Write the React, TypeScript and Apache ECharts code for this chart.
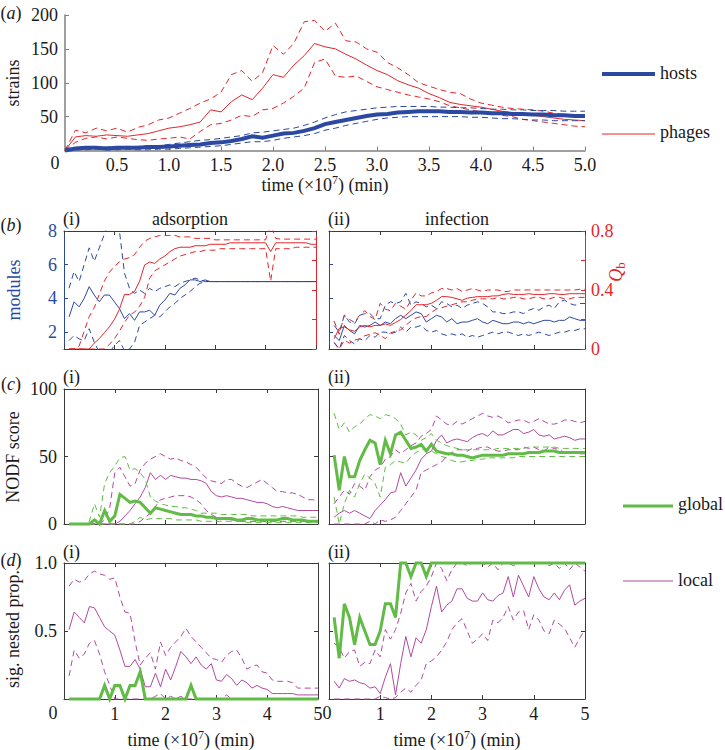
import React, { useEffect, useRef } from "react";
import * as echarts from "echarts";

// ---------- data ----------
const TA = [0,0.1,0.2,0.3,0.4,0.5,0.6,0.7,0.8,0.9,1,1.1,1.2,1.3,1.4,1.5,1.6,1.7,1.8,1.9,2,2.1,2.2,2.3,2.4,2.5,2.6,2.7,2.8,2.9,3,3.1,3.2,3.3,3.4,3.5,3.6,3.7,3.8,3.9,4,4.1,4.2,4.3,4.4,4.5,4.6,4.7,4.8,4.9,5];
const TB = [0.1,0.2,0.3,0.4,0.5,0.6,0.7,0.8,0.9,1,1.1,1.2,1.3,1.4,1.5,1.6,1.7,1.8,1.9,2,2.1,2.2,2.3,2.4,2.5,2.6,2.7,2.8,2.9,3,3.1,3.2,3.3,3.4,3.5,3.6,3.7,3.8,3.9,4,4.1,4.2,4.3,4.4,4.5,4.6,4.7,4.8,4.9,5];

// (a) strains
const phagesMean = [0,20,22,21,23,22,21,23,25,29,33,35,38,42,60,57,72,82,75,92,112,108,126,140,158,153,150,142,135,126,118,112,103,97,92,84,78,71,68,66,64,61,58,56,53,52,50,48,46,45,44];
const phagesUpper = [0,30,26,33,29,33,27,34,38,45,48,55,62,70,76,86,112,118,102,115,155,142,158,190,192,176,188,162,160,150,145,130,122,112,100,95,90,86,84,76,70,67,64,62,61,60,58,55,53,50,49];
const phagesLower = [0,12,18,20,17,20,18,16,15,17,18,20,17,28,38,40,45,52,50,60,62,70,80,92,130,135,110,108,110,102,94,90,86,82,79,76,72,66,63,60,57,55,52,50,46,44,42,40,38,36,35];
const hostsMean = [0,3,4,4,3,4,4,4,5,5,6,7,8,9,11,12,14,17,21,19,22,25,26,29,33,39,42,45,48,51,53,54,56,57,58,58,58,57,57,56,56,55,55,54,54,53,53,52,52,51,51];
const hostsUpper = [0,4,5,5,5,6,6,6,7,7,9,11,13,15,16,18,20,22,26,27,29,31,33,37,42,48,53,57,59,61,63,64,65,65,65,65,64,64,63,63,62,61,61,60,60,59,59,59,58,58,58];
const hostsLower = [0,1,1,2,1,1,2,1,1,2,2,3,4,5,6,7,9,11,13,13,15,18,20,22,25,30,33,37,40,43,46,48,49,50,50,50,50,50,50,49,49,48,47,47,46,45,45,44,44,44,44];

// (b)(i) adsorption: modules and Qb
const modMeanI = [2.9,3.8,3.5,4.0,4.7,4.2,3.8,4.2,4.2,3.8,3.4,2.8,3.1,2.7,3.2,3.2,3.3,3.0,3.6,3.9,4.3,4.2,4.6,4.8,5.1,5.1,5.0,5.1,5,5,5,5,5,5,5,5,5,5,5,5,5,5,5,5,5,5,5,5,5,5];
const modUpperI = [4.6,5.6,5.0,6.0,7.0,6.2,7.0,7.8,8.6,9.0,8.0,5.5,4.6,4.3,4.5,4.3,4.6,4.4,4.6,4.7,4.8,4.7,4.9,5.0,5.1,5.2,5.1,5.0,5,5,5,5,5,5,5,5,5,5,5,5,5,5,5,5,5,5,5,5,5,5];
const modLowerI = [1.5,1.8,1.6,1.5,2.2,1.4,0.8,0.6,0.8,1.2,1.5,0.9,1.0,1.4,2.4,2.6,2.8,3.0,2.9,3.2,3.5,3.7,4.0,4.2,4.4,4.7,4.9,5.0,5,5,5,5,5,5,5,5,5,5,5,5,5,5,5,5,5,5,5,5,5,5];
const qMeanI = [0,0,0,0,0,0.04,0.07,0.11,0.15,0.2,0.27,0.37,0.37,0.39,0.46,0.57,0.59,0.58,0.61,0.63,0.66,0.68,0.69,0.69,0.69,0.7,0.7,0.7,0.71,0.71,0.71,0.71,0.72,0.72,0.72,0.72,0.72,0.72,0.72,0.72,0.66,0.72,0.72,0.72,0.72,0.72,0.72,0.72,0.71,0.71];
const qUpperI = [0,0,0.02,0.12,0.22,0.28,0.37,0.46,0.52,0.56,0.59,0.61,0.62,0.64,0.69,0.73,0.75,0.76,0.77,0.77,0.77,0.77,0.76,0.76,0.76,0.75,0.75,0.75,0.75,0.74,0.74,0.74,0.74,0.74,0.74,0.74,0.74,0.74,0.74,0.74,0.84,0.75,0.745,0.745,0.745,0.745,0.745,0.745,0.745,0.745];
const qLowerI = [0,0,0,0,0,0,0,0,0.03,0.07,0.12,0.18,0.23,0.25,0.29,0.35,0.48,0.53,0.55,0.57,0.59,0.61,0.63,0.64,0.65,0.66,0.66,0.67,0.67,0.67,0.68,0.68,0.68,0.68,0.68,0.68,0.68,0.68,0.68,0.68,0.46,0.68,0.68,0.68,0.68,0.69,0.69,0.69,0.69,0.69];

// (b)(ii) infection
const modMeanII = [1.8,1.5,2.4,2.1,1.9,2.4,2.3,2.4,2.6,2.4,2.6,2.5,2.8,3.0,2.8,3.0,3.2,3.1,2.6,2.8,3.0,2.9,2.6,2.8,2.5,2.6,2.6,2.7,2.8,2.6,2.5,2.7,2.6,2.5,2.5,2.6,2.6,2.5,2.6,2.5,2.6,2.7,2.7,2.6,2.7,2.7,2.9,2.8,2.7,2.7];
const modUpperII = [2.4,2.0,3.0,2.6,2.5,3.0,3.1,3.1,2.8,2.8,3.6,3.8,3.7,3.8,4.3,3.6,3.8,3.7,3.5,3.6,3.4,3.8,3.7,3.5,3.6,3.4,3.6,3.7,3.8,3.7,3.5,3.2,3.2,3.1,3.1,3.2,3.2,3.1,3.3,3.4,3.3,3.5,3.6,3.4,3.8,3.9,3.7,3.6,3.7,3.7];
const modLowerII = [1.4,1.0,1.8,1.5,1.3,1.6,1.5,1.8,1.7,2.0,2.0,1.9,2.0,2.3,2.0,2.3,2.3,2.4,2.1,2.0,2.1,1.9,1.8,1.9,1.8,1.9,1.7,1.8,1.7,1.8,1.9,2.0,1.9,2.0,2.0,1.9,1.8,1.9,1.8,1.9,2.0,1.9,1.8,1.9,2.0,2.0,2.1,2.1,2.2,2.2];
const qMeanII = [0.07,0.14,0.15,0.13,0.12,0.15,0.16,0.15,0.16,0.16,0.17,0.16,0.18,0.2,0.23,0.26,0.3,0.3,0.3,0.31,0.33,0.355,0.355,0.35,0.34,0.33,0.345,0.35,0.355,0.355,0.355,0.36,0.36,0.37,0.375,0.37,0.37,0.37,0.375,0.37,0.37,0.37,0.375,0.375,0.37,0.37,0.375,0.375,0.375,0.375];
const qUpperII = [0.19,0.1,0.23,0.2,0.18,0.23,0.26,0.22,0.2,0.31,0.27,0.26,0.31,0.29,0.27,0.33,0.38,0.36,0.36,0.38,0.39,0.41,0.41,0.4,0.41,0.39,0.4,0.41,0.4,0.39,0.4,0.4,0.4,0.39,0.39,0.4,0.4,0.4,0.4,0.4,0.4,0.4,0.4,0.4,0.4,0.4,0.4,0.4,0.405,0.405];
const qLowerII = [0.04,0,0.06,0.04,0.06,0.07,0.09,0.1,0.11,0.095,0.07,0.11,0.12,0.13,0.16,0.19,0.21,0.22,0.22,0.25,0.27,0.28,0.29,0.3,0.31,0.32,0.32,0.33,0.34,0.34,0.34,0.34,0.35,0.34,0.34,0.35,0.35,0.34,0.34,0.35,0.35,0.34,0.34,0.35,0.35,0.34,0.34,0.35,0.35,0.35];

// (c) NODF score
const gMeanCI = [0,0,0,0,0,3,0,10,2,6,22,19,16,17,16,12,8,12,11,10,9,8,7,7,7,6,6,5,5,4,4,4,4,3,3,4,4,3,3,3,3,3,4,4,3,3,3,2,2,2];
const gUpperCI = [0,0,0,0,2,15,5,30,38,43,49,50,40,41,38,33,20,17,15,14,13,13,12,12,11,10,8,8,8,8,7,7,7,7,7,7,6,6,6,6,6,6,6,6,6,6,5,5,5,5];
const gLowerCI = [0,0,0,0,0,0,0,0,0,0,0,0,0,2,5,3,4,4,4,4,4,3,3,3,3,3,2,2,2,2,2,2,2,2,2,1,1,1,1,1,1,1,1,1,1,1,1,1,1,1];
const lMeanCI = [0,0,0,0,0,0,0,0,0,0,2,6,10,15,20,27,38,33,36,33,36,35,34,34,33,33,32,30,24,21,20,21,20,19,19,18,17,16,16,15,13,12,13,12,11,10,10,10,10,10];
const lUpperCI = [0,0,0,0,0,0,0,3,12,38,42,35,28,30,40,45,48,50,52,50,48,49,47,46,44,42,38,34,32,31,30,33,33,30,28,27,29,31,33,30,27,24,24,23,23,22,20,18,18,17];
const lLowerCI = [0,0,0,0,0,0,0,0,0,0,0,0,0,0,2,5,8,13,18,19,20,21,21,21,20,18,15,10,7,5,4,3,3,3,2,2,2,2,2,2,2,2,2,2,2,2,2,2,2,2];

const gMeanCII = [51,25,50,35,35,47,55,62,60,44,62,52,66,68,62,56,57,59,54,59,54,53,52,52,51,51,50,49,50,51,51,51,51,51,52,52,52,52,53,53,53,54,54,54,53,53,53,53,53,53];
const gUpperCII = [82,70,75,68,72,74,78,81,80,78,81,80,78,74,66,68,66,62,64,67,62,60,58,57,56,55,55,55,55,55,55,55,56,56,56,56,56,56,57,57,57,57,57,57,56,56,56,56,56,56];
const gLowerCII = [20,0,15,25,20,30,37,34,30,20,42,44,47,46,45,50,53,55,55,54,52,50,49,47,46,46,47,47,48,48,49,49,49,49,49,49,50,50,50,50,50,50,50,50,50,50,50,50,50,50];
const lMeanCII = [5,8,10,8,10,8,6,4,10,14,18,23,24,38,28,34,40,48,52,54,62,66,60,62,63,62,61,64,66,67,65,69,66,66,68,70,70,67,68,70,66,65,66,63,64,65,64,62,63,63];
const lUpperCII = [15,20,25,22,30,28,25,35,40,42,48,50,55,52,55,58,60,65,67,70,80,77,74,73,76,74,76,78,80,82,80,79,80,78,75,76,77,77,75,76,78,76,74,74,75,77,77,76,75,76];
const lLowerCII = [0,0,0,0,0,0,0,2,0,3,2,3,5,10,15,20,25,38,40,42,44,46,50,53,55,55,54,56,56,57,57,55,54,54,55,55,55,57,56,57,55,54,57,56,55,53,52,53,52,52];

// (d) significantly nested proportion
const gD1 = [0,0,0,0,0,0,0,0.1,0,0.1,0.1,0,0.1,0.1,0.2,0,0,0,0,0,0,0,0,0,0.1,0,0,0,0,0,0,0,0,0,0,0,0,0,0,0,0,0,0,0,0,0,0,0,0,0];
const lMeanD1 = [0.51,0.64,0.6,0.56,0.68,0.67,0.6,0.53,0.5,0.47,0.36,0.24,0.24,0.29,0.22,0.09,0.09,0.19,0.09,0.22,0.14,0.24,0.35,0.31,0.26,0.31,0.25,0.22,0.26,0.14,0.13,0.18,0.15,0.1,0.14,0.12,0.08,0.1,0.08,0.07,0.04,0.04,0.04,0.04,0.04,0.03,0.03,0.03,0.03,0.03];
const lUpperD1 = [0.83,0.88,0.86,0.87,0.92,0.94,0.92,0.91,0.88,0.89,0.75,0.64,0.63,0.42,0.25,0.3,0.34,0.22,0.42,0.32,0.38,0.42,0.46,0.52,0.46,0.42,0.38,0.34,0.3,0.29,0.27,0.32,0.35,0.36,0.3,0.22,0.24,0.25,0.2,0.19,0.14,0.13,0.13,0.13,0.12,0.08,0.08,0.08,0.08,0.08];
const lLowerD1 = [0.17,0.36,0.3,0.33,0.41,0.43,0.33,0.2,0.1,0,0,0,0,0,0,0,0,0.02,0.04,0,0.02,0,0.02,0,0,0,0,0,0,0,0,0.03,0,0,0,0,0,0,0,0,0,0,0,0,0,0,0,0,0,0];

const gD2 = [0.6,0.3,0.7,0.6,0.4,0.6,0.5,0.4,0.4,0.5,0.7,0.7,0.6,1,1,0.9,1,1,0.9,1,1,1,1,1,1,1,1,1,1,1,1,1,1,1,1,1,1,1,1,1,1,1,1,1,1,1,1,1,1,1];
const lMeanD2 = [0.13,0.08,0.15,0.13,0.14,0.12,0.11,0.08,0.09,0.04,0.16,0.26,0.03,0.26,0.46,0.31,0.45,0.41,0.51,0.68,0.83,0.64,0.69,0.72,0.81,0.81,0.74,0.72,0.72,0.78,0.73,0.72,0.76,0.78,0.9,0.75,0.91,0.83,0.75,0.9,0.81,0.75,0.73,0.78,0.73,0.8,0.84,0.69,0.72,0.74];
const lUpperD2 = [0.41,0.38,0.3,0.35,0.36,0.24,0.27,0.26,0.36,0.31,0.51,0.44,0.51,0.63,0.78,0.85,0.72,0.79,0.83,0.9,1,0.96,0.87,0.95,1,1,0.98,1,1,1,0.97,1,0.95,1,1,0.98,1,1,1,1,1,1,0.98,1,0.96,1,0.95,1,0.97,0.94];
const lLowerD2 = [0,0,0,0,0,0,0,0,0,0.02,0.01,0,0.01,0.05,0.08,0.05,0.1,0.14,0.26,0.28,0.31,0.36,0.42,0.51,0.56,0.59,0.5,0.41,0.44,0.48,0.43,0.58,0.56,0.6,0.68,0.58,0.64,0.65,0.51,0.62,0.58,0.5,0.48,0.58,0.55,0.52,0.45,0.38,0.45,0.51];

const xTicksA = [0.5, 1.0, 1.5, 2.0, 2.5, 3.0, 3.5, 4.0, 4.5, 5.0];
const moduleTicks = [2, 4, 6, 8];

// ---------- styles ----------
const FF = "Liberation Serif, Times New Roman, serif";
const FS = 18;
const BLUE = "#2b49a1";
const RED = "#e3262b";
const GREEN = "#62bb46";
const MAG = "#b04a9f";
const BOX = "#3a3a3a";
const GRAYAX = "#808080";
const TXT = "#1a1a1a";
const DASH = [6, 4];
const fontStr = (size: number, italic = false) => `${italic ? "italic " : ""}${size}px ${FF}`;

const grids = [
  { left: 65, top: 15, width: 520, height: 135.5 },
  { left: 64, top: 231, width: 252, height: 118 },
  { left: 329, top: 231, width: 256, height: 118 },
  { left: 64, top: 389, width: 254, height: 135 },
  { left: 329, top: 389, width: 256, height: 135 },
  { left: 64, top: 563, width: 254, height: 136 },
  { left: 329, top: 563, width: 256, height: 136 },
].map((g) => ({ ...g, containLabel: false, outerBoundsMode: "none", show: false }));

const aLine = (color: string, width = 1) => ({ show: true, onZero: false, lineStyle: { color, width } });
const aTick = (color: string, extra: any = {}) => ({ show: true, inside: true, length: 4, lineStyle: { color, width: 1 }, ...extra });
const lbl = (color: string, extra: any = {}) => ({ fontFamily: FF, fontSize: FS, color, ...extra });

function buildXAxes() {
  const xs: any[] = [];
  xs.push({
    gridIndex: 0, type: "value", min: 0, max: 5, interval: 0.5, position: "bottom",
    axisLine: aLine(GRAYAX, 1.5), axisTick: aTick(GRAYAX), splitLine: { show: false },
    axisLabel: lbl(TXT, { margin: 5, formatter: (v: number) => (xTicksA.some((t) => Math.abs(t - v) < 1e-6) ? v.toFixed(1) : "") }),
  });
  for (let g = 1; g <= 6; g++) {
    xs.push({
      gridIndex: g, type: "value", min: 0, max: 5, interval: 1, position: "bottom",
      axisLine: aLine(BOX), axisTick: aTick(BOX), splitLine: { show: false },
      axisLabel: lbl(TXT, { show: g >= 5, margin: 6, formatter: (v: number) => (v === 0 ? "" : String(v)) }),
    });
  }
  for (let g = 1; g <= 6; g++) {
    xs.push({
      gridIndex: g, type: "value", min: 0, max: 5, interval: 1, position: "top",
      axisLine: aLine(BOX), axisTick: aTick(BOX), splitLine: { show: false }, axisLabel: { show: false },
    });
  }
  return xs;
}

const qFmt = (v: number) => {
  const s = Math.round(v * 10) / 10;
  if (s === 0) return "0";
  if (s === 0.4 || s === 0.8) return s.toFixed(1);
  return "";
};

function buildYAxes() {
  const ys: any[] = [];
  ys.push({
    gridIndex: 0, type: "value", min: 0, max: 200, interval: 50, position: "left",
    axisLine: aLine(GRAYAX, 1.5), axisTick: aTick(GRAYAX), splitLine: { show: false },
    axisLabel: lbl(TXT, { margin: 7, formatter: (v: number) => (v === 0 ? "" : String(v)) }),
  });
  for (const g of [1, 2]) {
    ys.push({
      gridIndex: g, type: "value", min: 1, max: 8, position: "left",
      axisLine: aLine(BLUE), axisTick: aTick(BLUE, { customValues: moduleTicks }), splitLine: { show: false },
      axisLabel: lbl(BLUE, { show: g === 1, margin: 7, customValues: moduleTicks }),
    });
    ys.push({
      gridIndex: g, type: "value", min: 0, max: 0.8, interval: 0.2, position: "right",
      axisLine: aLine(RED), axisTick: aTick(RED), splitLine: { show: false },
      axisLabel: lbl(RED, { show: g === 2, margin: 6, formatter: qFmt }),
    });
  }
  for (const g of [3, 4]) {
    ys.push({
      gridIndex: g, type: "value", min: 0, max: 100, interval: 50, position: "left",
      axisLine: aLine(BOX), axisTick: aTick(BOX), splitLine: { show: false },
      axisLabel: lbl(TXT, { show: g === 3, margin: 7 }),
    });
    ys.push({
      gridIndex: g, type: "value", min: 0, max: 100, interval: 50, position: "right",
      axisLine: aLine(BOX), axisTick: aTick(BOX), splitLine: { show: false }, axisLabel: { show: false },
    });
  }
  for (const g of [5, 6]) {
    ys.push({
      gridIndex: g, type: "value", min: 0, max: 1, interval: 0.5, position: "left",
      axisLine: aLine(BOX), axisTick: aTick(BOX), splitLine: { show: false },
      axisLabel: lbl(TXT, { show: g === 5, margin: 7, formatter: (v: number) => (v === 0 ? "" : v.toFixed(1)) }),
    });
    ys.push({
      gridIndex: g, type: "value", min: 0, max: 1, interval: 0.5, position: "right",
      axisLine: aLine(BOX), axisTick: aTick(BOX), splitLine: { show: false }, axisLabel: { show: false },
    });
  }
  return ys;
}

function ln(xi: number, yi: number, T: number[], vals: number[], color: string, width: number, dashed: boolean, clip = false, z = 2) {
  return {
    type: "line", xAxisIndex: xi, yAxisIndex: yi, data: T.map((t, i) => [t, vals[i]]),
    showSymbol: false, symbol: "none", silent: true, clip, z, animation: false,
    lineStyle: { color, width, type: dashed ? DASH : "solid", cap: "butt", join: "miter" },
  };
}

function buildSeries() {
  const s: any[] = [];
  s.push(ln(0, 0, TA, phagesUpper, RED, 1, true));
  s.push(ln(0, 0, TA, phagesLower, RED, 1, true));
  s.push(ln(0, 0, TA, phagesMean, RED, 1, false));
  s.push(ln(0, 0, TA, hostsUpper, BLUE, 1, true));
  s.push(ln(0, 0, TA, hostsLower, BLUE, 1, true));
  s.push(ln(0, 0, TA, hostsMean, BLUE, 4, false, false, 3));
  s.push(ln(1, 1, TB, modUpperI, BLUE, 1, true, true));
  s.push(ln(1, 1, TB, modLowerI, BLUE, 1, true, true));
  s.push(ln(1, 1, TB, modMeanI, BLUE, 1, false, true));
  s.push(ln(1, 2, TB, qUpperI, RED, 1, true, true));
  s.push(ln(1, 2, TB, qLowerI, RED, 1, true, true));
  s.push(ln(1, 2, TB, qMeanI, RED, 1, false, true));
  s.push(ln(2, 3, TB, modUpperII, BLUE, 1, true, true));
  s.push(ln(2, 3, TB, modLowerII, BLUE, 1, true, true));
  s.push(ln(2, 3, TB, modMeanII, BLUE, 1, false, true));
  s.push(ln(2, 4, TB, qUpperII, RED, 1, true, true));
  s.push(ln(2, 4, TB, qLowerII, RED, 1, true, true));
  s.push(ln(2, 4, TB, qMeanII, RED, 1, false, true));
  s.push(ln(3, 5, TB, lUpperCI, MAG, 1, true));
  s.push(ln(3, 5, TB, lLowerCI, MAG, 1, true));
  s.push(ln(3, 5, TB, lMeanCI, MAG, 1, false));
  s.push(ln(3, 5, TB, gUpperCI, GREEN, 1, true));
  s.push(ln(3, 5, TB, gLowerCI, GREEN, 1, true));
  s.push(ln(3, 5, TB, gMeanCI, GREEN, 3, false, false, 3));
  s.push(ln(4, 7, TB, lUpperCII, MAG, 1, true));
  s.push(ln(4, 7, TB, lLowerCII, MAG, 1, true));
  s.push(ln(4, 7, TB, lMeanCII, MAG, 1, false));
  s.push(ln(4, 7, TB, gUpperCII, GREEN, 1, true));
  s.push(ln(4, 7, TB, gLowerCII, GREEN, 1, true));
  s.push(ln(4, 7, TB, gMeanCII, GREEN, 3, false, false, 3));
  s.push(ln(5, 9, TB, lUpperD1, MAG, 1, true));
  s.push(ln(5, 9, TB, lLowerD1, MAG, 1, true));
  s.push(ln(5, 9, TB, lMeanD1, MAG, 1, false));
  s.push(ln(5, 9, TB, gD1, GREEN, 3, false, false, 3));
  s.push(ln(6, 11, TB, lUpperD2, MAG, 1, true));
  s.push(ln(6, 11, TB, lLowerD2, MAG, 1, true));
  s.push(ln(6, 11, TB, lMeanD2, MAG, 1, false));
  s.push(ln(6, 11, TB, gD2, GREEN, 3, false, false, 3));
  return s;
}

// ---------- graphic texts ----------
const tok = (color: string, size = FS, italic = false, extra: any = {}) => ({
  font: fontStr(size, italic), fontFamily: FF, fontSize: size, fontStyle: italic ? "italic" : "normal",
  lineHeight: 22, verticalAlign: "middle", fill: color, color, ...extra,
});
const richBase = {
  n: tok(TXT),
  it: tok(TXT, FS, true),
};

function txt(x: number, y: number, text: string, o: any = {}) {
  const align = o.align || "center";
  const color = o.color || TXT;
  const size = o.size || FS;
  return {
    type: "text", x, y, rotation: o.rotation || 0, silent: true, z: 100,
    style: {
      text, fill: color,
      font: fontStr(size, !!o.italic), fontFamily: FF, fontSize: size, fontStyle: o.italic ? "italic" : "normal",
      align, verticalAlign: "middle", textAlign: align, textVerticalAlign: "middle",
      rich: o.rich,
    },
  };
}

// "time (×10^7) (min)" built from plain pieces (Times metrics, 18px)
const TIME_A = "time (×10";
const TIME_SUP = "7";
const TIME_B = ") (min)";
function timeTitle(cx: number, y: number) {
  const wA = 3.925 * FS;
  const wS = 0.5 * 12;
  const wB = 2.805 * FS;
  const x0 = cx - (wA + wS + wB) / 2;
  return [
    txt(x0, y, TIME_A, { align: "left" }),
    txt(x0 + wA, y - 5, TIME_SUP, { align: "left", size: 12 }),
    txt(x0 + wA + wS, y, TIME_B, { align: "left" }),
  ];
}

const panel = (ch: string) => `{n|(}{it|${ch}}{n|)}`;

function buildGraphic() {
  const R = Math.PI / 2;
  const g: any[] = [];
  g.push(txt(11, 13, panel("a"), { rich: richBase }));
  g.push(txt(11, 225, panel("b"), { rich: richBase }));
  g.push(txt(11, 384, panel("c"), { rich: richBase }));
  g.push(txt(11, 560, panel("d"), { rich: richBase }));
  g.push(txt(63, 219, "(i)", { align: "left" }));
  g.push(txt(328, 219, "(ii)", { align: "left" }));
  g.push(txt(190, 219, "adsorption"));
  g.push(txt(457, 219, "infection"));
  g.push(txt(63, 377, "(i)", { align: "left" }));
  g.push(txt(328, 377, "(ii)", { align: "left" }));
  g.push(txt(63, 552, "(i)", { align: "left" }));
  g.push(txt(328, 552, "(ii)", { align: "left" }));
  g.push(txt(13, 83, "strains", { rotation: R }));
  g.push(txt(14, 290, "modules", { rotation: R, color: BLUE }));
  g.push(txt(616, 272, "{q|Q}{b|b}", {
    rotation: R, color: RED,
    rich: {
      q: tok(RED, FS, true),
      b: tok(RED, 13, false, { lineHeight: 13, verticalAlign: "bottom" }),
    },
  }));
  g.push(txt(13, 457, "NODF score", { rotation: R }));
  g.push(txt(13, 629, "sig. nested prop.", { rotation: R }));
  g.push(...timeTitle(325, 185));
  g.push(...timeTitle(191, 740));
  g.push(...timeTitle(457, 740));
  g.push(txt(55, 163, "0"));
  g.push(txt(53, 713, "0"));
  g.push(txt(327, 713, "0"));
  g.push({ type: "line", silent: true, z: 100, shape: { x1: 602, y1: 74, x2: 655, y2: 74 }, style: { stroke: BLUE, lineWidth: 4 } });
  g.push(txt(660, 73, "hosts", { align: "left" }));
  g.push({ type: "line", silent: true, z: 100, shape: { x1: 602, y1: 134, x2: 655, y2: 134 }, style: { stroke: RED, lineWidth: 1 } });
  g.push(txt(660, 132, "phages", { align: "left" }));
  g.push({ type: "line", silent: true, z: 100, shape: { x1: 623, y1: 506, x2: 673, y2: 506 }, style: { stroke: GREEN, lineWidth: 3 } });
  g.push(txt(678, 504, "global", { align: "left" }));
  g.push({ type: "line", silent: true, z: 100, shape: { x1: 623, y1: 581, x2: 673, y2: 581 }, style: { stroke: MAG, lineWidth: 1 } });
  g.push(txt(678, 580, "local", { align: "left" }));
  return g;
}

export default function App() {
  const ref = useRef<HTMLDivElement>(null);
  useEffect(() => {
    if (!ref.current) return;
    const chart = echarts.init(ref.current, null, { renderer: "svg" });
    chart.setOption({
      animation: false,
      backgroundColor: "#ffffff",
      textStyle: { fontFamily: FF },
      grid: grids,
      xAxis: buildXAxes(),
      yAxis: buildYAxes(),
      series: buildSeries(),
      graphic: buildGraphic(),
    });
    return () => chart.dispose();
  }, []);
  return (
    <div
      ref={ref}
      style={{ position: "absolute", left: 0, top: 0, width: 725, height: 750, background: "#fff" }}
    />
  );
}
